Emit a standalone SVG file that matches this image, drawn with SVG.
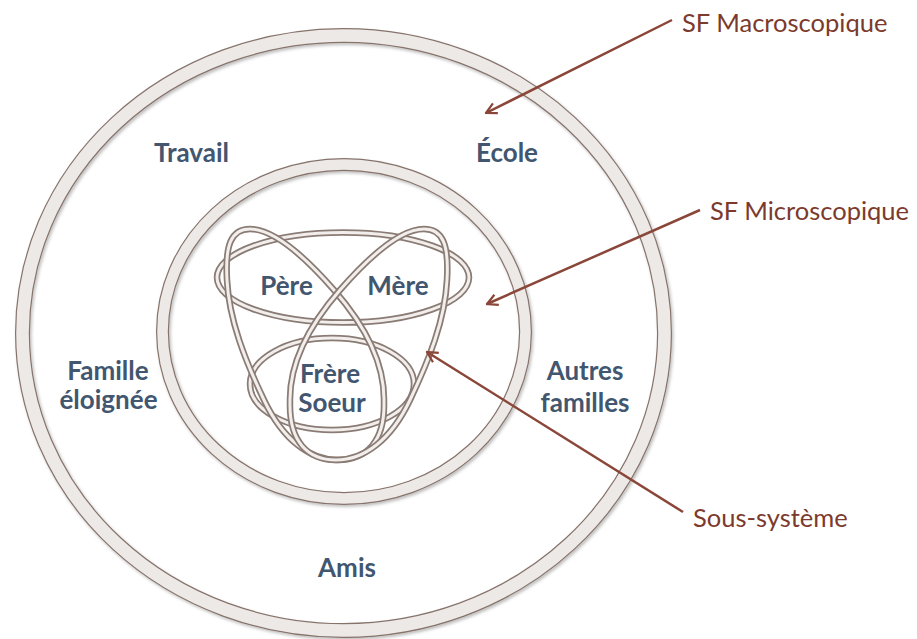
<svg xmlns="http://www.w3.org/2000/svg" width="917" height="639" viewBox="0 0 917 639">
<defs>
<style>
.ringD{fill:none;stroke:#86736b;}
.ringL{fill:none;stroke:#ede9e7;}
.tubeD{fill:none;stroke:#8a7b74;stroke-width:6.5;}
.tubeL{fill:none;stroke:#f1eeec;stroke-width:3;}
.lbl{font-family:Lato,"Liberation Sans",sans-serif;font-weight:bold;font-size:26px;fill:#42566f;text-anchor:middle;}
.call{font-family:Lato,"Liberation Sans",sans-serif;font-size:25.5px;fill:#7c3a2d;}
.arr{stroke:#8a4638;stroke-width:2.5;fill:none;marker-end:url(#ah);}
</style>
<filter id="sh" x="-5%" y="-5%" width="110%" height="110%">
<feDropShadow dx="1.5" dy="2" stdDeviation="1.5" flood-color="#000" flood-opacity="0.25"/>
</filter>
<marker id="ah" viewBox="0 0 14 14" refX="12.5" refY="7" markerWidth="14" markerHeight="14" markerUnits="userSpaceOnUse" orient="auto">
<path d="M2,1.5 L12.5,7 L2,12.5" fill="none" stroke="#8a4638" stroke-width="2.2"/>
</marker>
<path id="loopL" d="M250,229 C275,229 306,258 334,290 C362,322 385,360 384,402 C385,442 366,460 338,460 C310,460 283,440 264,400 C245,360 229,320 227,280 C225,245 231,229 250,229 Z"/>
</defs>

<g id="macro" filter="url(#sh)">
<ellipse class="ringD" cx="343.5" cy="333" rx="321" ry="297.5" stroke-width="15"/>
<ellipse class="ringL" cx="343.5" cy="333" rx="321" ry="297.5" stroke-width="12.6"/>
</g>

<g id="micro" filter="url(#sh)">
<ellipse class="ringD" cx="344" cy="331.5" rx="181.5" ry="167" stroke-width="13"/>
<ellipse class="ringL" cx="344" cy="331.5" rx="181.5" ry="167" stroke-width="10.6"/>
</g>

<g id="sous-systeme">
<g id="parents">
<ellipse class="tubeD" cx="343" cy="277.5" rx="126" ry="45"/>
<ellipse class="tubeL" cx="343" cy="277.5" rx="126" ry="45"/>
</g>
<g id="fratrie">
<ellipse class="tubeD" cx="332" cy="384" rx="82" ry="46"/>
<ellipse class="tubeL" cx="332" cy="384" rx="82" ry="46"/>
</g>
<g id="boucle-gauche">
<use href="#loopL" class="tubeD"/>
<use href="#loopL" class="tubeL"/>
</g>
<g id="boucle-droite" transform="translate(674,0) scale(-1,1)">
<use href="#loopL" class="tubeD"/>
<use href="#loopL" class="tubeL"/>
</g>
</g>

<g id="labels">
<text class="lbl" x="191.5" y="162">Travail</text>
<text class="lbl" x="507" y="162">École</text>
<text class="lbl" x="286.5" y="295">Père</text>
<text class="lbl" x="398" y="295">Mère</text>
<text class="lbl" x="330" y="383">Frère</text>
<text class="lbl" x="332" y="412">Soeur</text>
<text class="lbl" x="108" y="380">Famille</text>
<text class="lbl" x="108.5" y="409">éloignée</text>
<text class="lbl" x="585" y="380">Autres</text>
<text class="lbl" x="585" y="412">familles</text>
<text class="lbl" x="347" y="577">Amis</text>
</g>

<g id="connectors">
<line class="arr" x1="672" y1="20" x2="486" y2="113"/>
<line class="arr" x1="700" y1="210" x2="487" y2="304"/>
<line class="arr" x1="683" y1="512" x2="427" y2="352"/>
</g>

<g id="callouts">
<text class="call" x="682" y="32">SF Macroscopique</text>
<text class="call" x="710" y="220">SF Microscopique</text>
<text class="call" x="693" y="527">Sous-système</text>
</g>
</svg>
